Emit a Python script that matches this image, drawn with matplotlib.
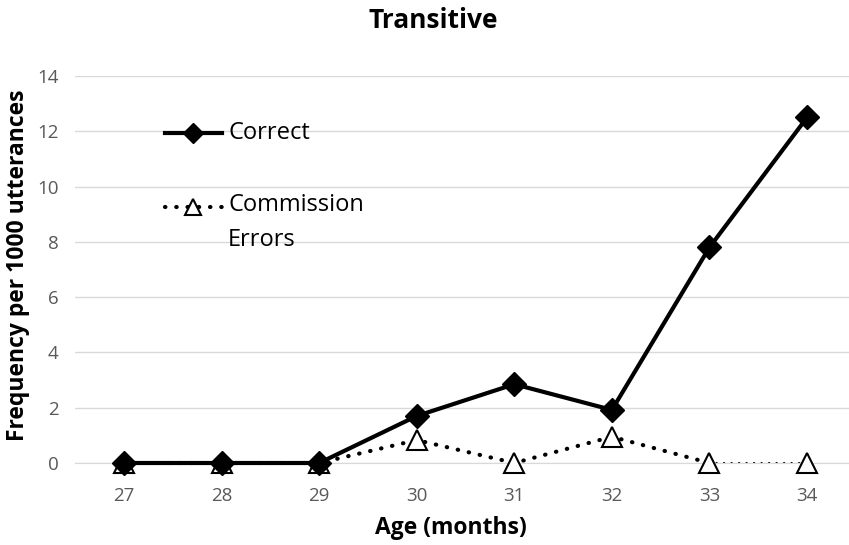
import matplotlib.pyplot as plt
from matplotlib.lines import Line2D

plt.rcParams['font.family'] = ['Open Sans', 'DejaVu Sans']

ages = [27, 28, 29, 30, 31, 32, 33, 34]
correct = [0, 0, 0, 1.7, 2.85, 1.92, 7.8, 12.5]
commission = [0, 0, 0, 0.83, 0, 0.95, 0, 0]

W, H = 849, 545
fig = plt.figure(figsize=(W / 100, H / 100), dpi=100)
ax = fig.add_axes([75 / W, 82 / H, 774 / W, 387 / H])

dots = (0, (0.1, 2.6))
# dotted commission line, last segment finer like the original
ax.plot(ages[:-1], commission[:-1], color='black', lw=3,
        linestyle=dots, dash_capstyle='round', zorder=2, clip_on=False)
ax.plot(ages[-2:], commission[-2:], color='black', lw=1.5,
        linestyle=(0, (0.1, 3.5)), dash_capstyle='round', zorder=2, clip_on=False)
ax.plot(ages, commission, linestyle='none', marker='^', markersize=14,
        markerfacecolor='white', markeredgecolor='black', markeredgewidth=1.5,
        zorder=3, clip_on=False)
ax.plot(ages, correct, color='black', lw=3, marker='D', markersize=12,
        zorder=4, clip_on=False)

ax.set_xlim(26.498, 34.43)
ax.set_ylim(0, 14)
ax.set_yticks(range(0, 15, 2))
ax.set_xticks(ages)
ax.grid(axis='y', color='#d9d9d9', lw=1)
ax.set_axisbelow(True)
for s in ['top', 'right', 'left']:
    ax.spines[s].set_visible(False)
ax.spines['bottom'].set_color('#d9d9d9')
ax.tick_params(length=0, labelsize=13.5, labelcolor='#595959')
ax.tick_params(axis='x', pad=17)
ax.tick_params(axis='y', pad=12)

# titles placed in figure pixels
fig.text(433 / W, 1 - 20 / H, 'Transitive', fontsize=19, fontweight='bold',
         ha='center', va='center')
fig.text(451 / W, 1 - 528 / H, 'Age (months)', fontsize=16.5, fontweight='bold',
         ha='center', va='center')
fig.text(18 / W, 1 - 265 / H, 'Frequency per 1000 utterances', fontsize=16.5,
         fontweight='bold', rotation=90, ha='center', va='center')

# legend drawn by hand
fig.add_artist(Line2D([165 / W, 222 / W], [1 - 133 / H] * 2, color='black', lw=3))
fig.add_artist(Line2D([193 / W], [1 - 133 / H], color='black', marker='D', markersize=10))
fig.add_artist(Line2D([165 / W, 222 / W], [1 - 207 / H] * 2, color='black', lw=3,
                      linestyle=dots, dash_capstyle='round'))
fig.add_artist(Line2D([193 / W], [1 - 207 / H], marker='^', markersize=12,
                      markerfacecolor='white', markeredgecolor='black', markeredgewidth=1.5))
fig.text(228 / W, 1 - 133 / H, 'Correct', fontsize=17, va='center')
fig.text(228 / W, 1 - 205 / H, 'Commission', fontsize=17, va='center')
fig.text(228 / W, 1 - 240 / H, 'Errors', fontsize=17, va='center')

fig.savefig('out.png', dpi=100)
